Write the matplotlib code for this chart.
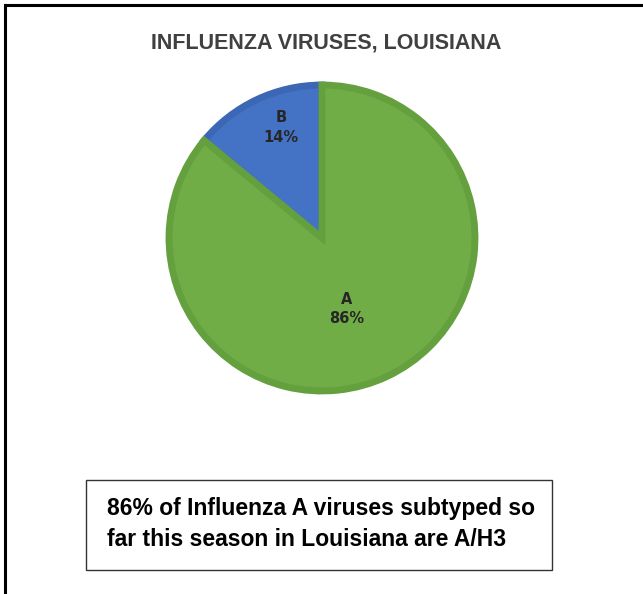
import numpy as np
import matplotlib.pyplot as plt
from matplotlib.patches import Rectangle
from matplotlib.lines import Line2D

# data
labels = ['B', 'A']
shares = [14, 86]
fills = ['#4472c4', '#70ad47']
edges = ['#3c67b5', '#65a03f']
title = 'INFLUENZA VIRUSES, LOUISIANA'
note = '86% of Influenza A viruses subtyped so\nfar this season in Louisiana are A/H3'

W, H = 643, 594
fig = plt.figure(figsize=(W / 100, H / 100), dpi=100)
fig.patch.set_facecolor('white')

def px(x0, y0, x1, y1):
    # pixel box -> figure fraction rect
    return [x0 / W, 1 - y1 / H, (x1 - x0) / W, (y1 - y0) / H]

# frame lines (top and left only)
fig.add_artist(Line2D([4.5 / W, 1], [1 - 4.5 / H, 1 - 4.5 / H], color='black', lw=2.2, transform=fig.transFigure))
fig.add_artist(Line2D([4.5 / W, 4.5 / W], [0, 1 - 4.5 / H], color='black', lw=2.2, transform=fig.transFigure))

fig.text(326 / W, 1 - 43 / H, title, ha='center', va='center', fontsize=15.5,
         fontweight='bold', color='#404040', family='Liberation Sans')

ax = fig.add_axes(px(166, 82, 478, 394))
wedges, _ = ax.pie(shares, colors=fills, startangle=90, counterclock=True,
                   wedgeprops=dict(linewidth=5, joinstyle='miter'))
for w, ec in zip(wedges, edges):
    w.set_edgecolor(ec)
ax.set_aspect('equal')
ax.set_xlim(-1.02, 1.02)
ax.set_ylim(-1.02, 1.02)
ax.axis('off')

label_r = [0.77, 0.49]
label_shift = [-5, -6]
for w, lab, s, r, sh in zip(wedges, labels, shares, label_r, label_shift):
    ang = np.deg2rad((w.theta1 + w.theta2) / 2 + sh)
    ax.text(r * np.cos(ang), r * np.sin(ang), f'{lab}\n{s}%', ha='center', va='center',
            fontsize=10.5, fontweight='semibold', color='#262626', linespacing=1.35,
            family='DejaVu Sans')

fig.add_artist(Rectangle((86 / W, 1 - 570 / H), (552 - 86) / W, (570 - 480) / H,
                         transform=fig.transFigure, fill=False, edgecolor='#333333', lw=1))
fig.text(107 / W, 1 - 524 / H, note, ha='left', va='center', fontsize=16.5,
         fontweight='bold', color='black', family='Liberation Sans', linespacing=1.4)

fig.savefig('out.png', dpi=100, facecolor='white')
